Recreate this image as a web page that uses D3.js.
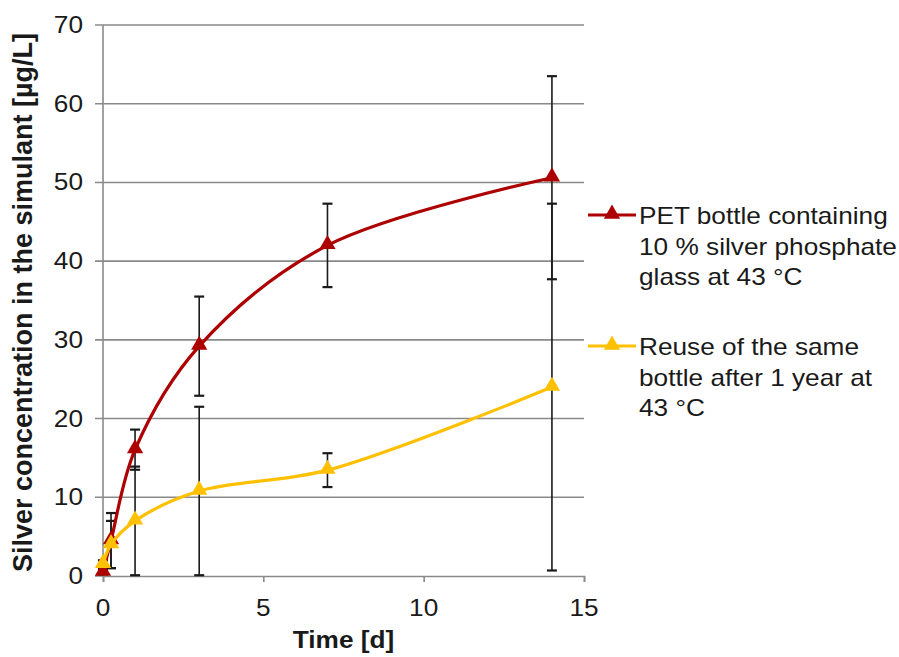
<!DOCTYPE html>
<html>
<head>
<meta charset="utf-8">
<script src="https://cdn.jsdelivr.net/npm/d3@7"></script>
<style>
  html, body { margin: 0; padding: 0; background: #fff; }
  svg { display: block; font-family: "Liberation Sans", Arial, sans-serif; }
</style>
</head>
<body>
<svg id="chart" width="899" height="657"></svg>
<script>
// Sampling times in days
const times = [0, 0.25, 1, 3, 7, 14];

// Silver concentration (µg/L) and standard deviations
const petValues   = [0.5, 4.5, 16.05, 29.2, 42.0, 50.6];
const petErrors   = [0.3, 3.5, 2.55, 6.3, 5.3, 12.9];
const reuseValues = [1.5, 4.0, 7.0, 10.8, 13.45, 24.0];
const reuseErrors = [0.5, 3.0, 6.9, 10.7, 2.15, 23.3];

const seriesNames = [
  ["PET bottle containing", "10 % silver phosphate", "glass at 43 °C"],
  ["Reuse of the same", "bottle after 1 year at", "43 °C"]
];
const seriesColors = ["#ad0000", "#ffc000"];

const xTicks = [0, 5, 10, 15];
const yTicks = [0, 10, 20, 30, 40, 50, 60, 70];

const xTitle = "Time [d]";
const yTitle = "Silver concentration in the simulant [µg/L]";

const series = [
  { values: petValues, errors: petErrors, color: seriesColors[0], label: seriesNames[0] },
  { values: reuseValues, errors: reuseErrors, color: seriesColors[1], label: seriesNames[1] }
];

const svg = d3.select("#chart");
const stretch = 1.14;           // text is drawn slightly wide
const gridColor = "#8a8a8a";
const textColor = "#1a1a1a";

const x = d3.scaleLinear().domain([0, 15]).range([103, 584]);
const y = d3.scaleLinear().domain([0, 70]).range([576, 25]);

// horizontal gridlines with short outside ticks
svg.append("g").selectAll("line").data(yTicks.filter(d => d > 0)).join("line")
  .attr("x1", x(0) - 8).attr("x2", x(15))
  .attr("y1", d => y(d)).attr("y2", d => y(d))
  .attr("stroke", gridColor).attr("stroke-width", 1.6);

// y axis line and bottom tick
svg.append("line").attr("x1", x(0)).attr("x2", x(0)).attr("y1", y(70)).attr("y2", y(0))
  .attr("stroke", gridColor).attr("stroke-width", 1.6);
svg.append("line").attr("x1", x(0) - 8).attr("x2", x(0)).attr("y1", y(0)).attr("y2", y(0))
  .attr("stroke", gridColor).attr("stroke-width", 1.6);

// x axis
const xAxis = d3.axisBottom(x).tickValues(xTicks).tickSize(6).tickFormat("");
const gx = svg.append("g").attr("transform", `translate(0,${y(0)})`).call(xAxis);
gx.select(".domain").attr("stroke", gridColor).attr("stroke-width", 1.6);
gx.selectAll(".tick line").attr("stroke", gridColor).attr("stroke-width", 1.6);

// tick labels
svg.append("g").selectAll("text").data(yTicks).join("text")
  .attr("transform", d => `translate(83,${y(d) + 8}) scale(${stretch},1)`)
  .attr("text-anchor", "end")
  .attr("font-size", 23).attr("fill", textColor)
  .text(d => d);

svg.append("g").selectAll("text").data(xTicks).join("text")
  .attr("transform", d => `translate(${x(d)},${y(0) + 40}) scale(${stretch},1)`)
  .attr("text-anchor", "middle")
  .attr("font-size", 23).attr("fill", textColor)
  .text(d => d);

// axis titles
svg.append("text")
  .attr("transform", `translate(${(x(0) + x(15)) / 2},648) scale(${stretch},1)`)
  .attr("text-anchor", "middle").attr("font-size", 23).attr("font-weight", "bold")
  .attr("fill", textColor).text(xTitle);

svg.append("text")
  .attr("transform", `translate(32,${(y(0) + y(70)) / 2 + 2}) rotate(-90)`)
  .attr("text-anchor", "middle").attr("font-size", 27).attr("font-weight", "bold")
  .attr("fill", textColor).text(yTitle);

// error bars
const capHalf = 5;
const eb = svg.append("g");
series.forEach(s => {
  const pts = times.map((t, i) => ({ t, v: s.values[i], e: s.errors[i] }));
  const g = eb.append("g").attr("stroke", "#1a1a1a").attr("stroke-width", 1.6);
  g.selectAll("line.v").data(pts).join("line").attr("class", "v")
    .attr("x1", d => x(d.t)).attr("x2", d => x(d.t))
    .attr("y1", d => y(Math.max(0, d.v - d.e))).attr("y2", d => y(d.v + d.e));
  g.selectAll("line.top").data(pts).join("line").attr("class", "top")
    .attr("x1", d => x(d.t) - capHalf).attr("x2", d => x(d.t) + capHalf)
    .attr("y1", d => y(d.v + d.e)).attr("y2", d => y(d.v + d.e)).attr("stroke-width", 2.2);
  g.selectAll("line.bot").data(pts).join("line").attr("class", "bot")
    .attr("x1", d => x(d.t) - capHalf).attr("x2", d => x(d.t) + capHalf)
    .attr("y1", d => y(Math.max(0, d.v - d.e))).attr("y2", d => y(Math.max(0, d.v - d.e))).attr("stroke-width", 2.2);
});

// smoothed lines and triangle markers
const line = d3.line().x(d => x(d[0])).y(d => y(d[1])).curve(d3.curveCatmullRom.alpha(0.5));
const tri = d3.symbol().type(d3.symbolTriangle).size(115);

series.forEach(s => {
  const pts = times.map((t, i) => [t, s.values[i]]);
  svg.append("path").datum(pts).attr("d", line)
    .attr("fill", "none").attr("stroke", s.color).attr("stroke-width", 3.2);
  svg.append("g").selectAll("path").data(pts).join("path")
    .attr("d", tri).attr("fill", s.color)
    .attr("transform", d => `translate(${x(d[0])},${y(d[1]) - 1})`);
});

// legend
const legendTop = [215, 346];
series.forEach((s, i) => {
  const ly = legendTop[i];
  const g = svg.append("g");
  g.append("line").attr("x1", 588).attr("x2", 636).attr("y1", ly).attr("y2", ly)
    .attr("stroke", s.color).attr("stroke-width", 3.2);
  g.append("path").attr("d", tri).attr("fill", s.color)
    .attr("transform", `translate(612,${ly - 1})`);
  s.label.forEach((txt, k) => {
    g.append("text")
      .attr("transform", `translate(639,${ly + 9 + k * 30.5}) scale(${stretch},1)`)
      .attr("font-size", 23).attr("fill", textColor).text(txt);
  });
});
</script>
</body>
</html>
